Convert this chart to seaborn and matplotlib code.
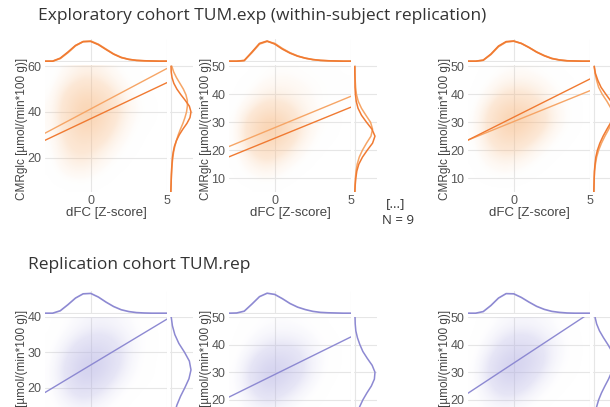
import numpy as np
import matplotlib.pyplot as plt
from matplotlib.colors import LinearSegmentedColormap
import seaborn as sns

# ---- values ----
fit_x = [-3, 5]

# grids for the marginal density curves
x_marg = [-3.0, -2.5, -2.0, -1.5, -1.0, -0.5, 0.0, 0.5, 1.0, 1.5, 2.0, 2.5, 3.0, 3.5, 4.0, 4.5, 5.0]
y_marg_60 = [5, 7.5, 10, 12.5, 15, 17.5, 20, 22.5, 25, 27.5, 30, 32.5, 35, 37.5, 40, 42.5, 45, 47.5, 50, 52.5, 55, 57.5, 60]
y_marg_50 = [5, 7.5, 10, 12.5, 15, 17.5, 20, 22.5, 25, 27.5, 30, 32.5, 35, 37.5, 40, 42.5, 45, 47.5, 50]
y_marg_40 = [5, 7.5, 10, 12.5, 15, 17.5, 20, 22.5, 25, 27.5, 30, 32.5, 35, 37.5, 40]

# exploratory cohort (two sessions: light / dark)
exp_ylim = [(5, 60.5), (5, 50.5), (5, 50.5)]
exp_yticks = [[20, 40, 60], [10, 20, 30, 40, 50], [10, 20, 30, 40, 50]]
exp_fit_light = [[30.7, 59.0], [21.3, 39.3], [23.6, 41.3]]
exp_fit_dark = [[27.6, 52.8], [17.6, 35.4], [23.6, 45.5]]

exp_top_light = [
    [0, 0, .13, .42, .76, .97, 1.0, .84, .60, .36, .19, .09, .04, .02, .01, 0, 0],
    [0, 0, .04, .42, .85, .98, .88, .63, .42, .26, .15, .08, .04, .02, .01, 0, 0],
    [0, 0, .05, .33, .72, .95, .99, .88, .68, .46, .28, .14, .06, .02, .01, 0, 0],
]
exp_top_dark = [
    [0, 0, .15, .45, .78, .97, .98, .82, .58, .35, .18, .09, .04, .02, .01, 0, 0],
    [0, 0, .03, .45, .88, 1.0, .85, .60, .40, .25, .15, .08, .04, .02, .01, 0, 0],
    [0, 0, .05, .35, .75, .97, 1.0, .88, .68, .45, .27, .13, .06, .02, .01, 0, 0],
]
exp_right_y = [y_marg_60, y_marg_50, y_marg_50]
exp_right_light = [
    [0, .01, .02, .03, .05, .07, .10, .14, .20, .28, .37, .48, .60, .70, .78, .82, .82, .75, .62, .45, .28, .14, .05],
    [0, .01, .03, .06, .12, .22, .38, .58, .80, .88, .78, .55, .33, .17, .08, .04, .02, .01, 0],
    [0, .01, .02, .04, .08, .14, .24, .38, .55, .74, .90, .95, .85, .65, .42, .24, .14, .06, .02],
]
exp_right_dark = [
    [0, .01, .02, .03, .04, .06, .08, .12, .18, .28, .42, .60, .80, .95, 1.0, .92, .72, .50, .30, .15, .06, .02, .01],
    [0, .02, .05, .10, .20, .38, .62, .88, 1.0, .85, .58, .33, .16, .07, .03, .01, .01, 0, 0],
    [0, .01, .02, .03, .06, .10, .18, .30, .46, .65, .85, .98, 1.0, .85, .60, .36, .20, .08, .02],
]
# point-cloud density, rows top->bottom, columns x = -2.5 .. 4.5
exp_cloud = [
    [[0, .08, .18, .15, .05, .01, 0, 0],
     [.01, .20, .40, .35, .14, .03, 0, 0],
     [.03, .40, .75, .65, .28, .07, .01, 0],
     [.05, .50, .95, .85, .38, .09, .02, 0],
     [.05, .48, .90, .75, .30, .06, .01, 0],
     [.03, .38, .65, .50, .18, .03, 0, 0],
     [.02, .28, .42, .26, .08, .01, 0, 0],
     [.01, .18, .25, .12, .03, 0, 0, 0],
     [0, .08, .10, .04, 0, 0, 0, 0],
     [0, 0, .01, 0, 0, 0, 0, 0]],
    [[0, 0, .03, .04, .03, .02, .01, 0],
     [0, .02, .08, .10, .07, .04, .02, .01],
     [0, .06, .20, .20, .12, .05, .02, .01],
     [.01, .20, .50, .45, .20, .06, .02, 0],
     [.02, .45, .95, .80, .30, .08, .02, 0],
     [.02, .50, 1.0, .75, .25, .05, .01, 0],
     [.01, .35, .65, .40, .12, .02, 0, 0],
     [0, .15, .30, .15, .04, 0, 0, 0],
     [0, .05, .10, .04, 0, 0, 0, 0],
     [0, 0, .01, 0, 0, 0, 0, 0]],
    [[0, .01, .04, .05, .03, .01, 0, 0],
     [0, .04, .15, .18, .12, .04, .01, 0],
     [0, .12, .38, .40, .25, .08, .02, 0],
     [.01, .30, .75, .80, .50, .14, .03, 0],
     [.02, .40, .95, .95, .55, .15, .03, 0],
     [.02, .35, .75, .65, .30, .07, .01, 0],
     [.01, .22, .40, .30, .10, .02, 0, 0],
     [0, .10, .16, .10, .03, 0, 0, 0],
     [0, .03, .05, .02, 0, 0, 0, 0],
     [0, 0, 0, 0, 0, 0, 0, 0]],
]

# replication cohort (one session)
rep_ylim = [(4, 40), (4, 50), (4, 50)]
rep_yticks = [[20, 30, 40], [20, 30, 40, 50], [20, 30, 40, 50]]
rep_fit = [[18.6, 39.4], [21.0, 42.8], [22.4, 51.5]]
rep_top = [
    [0, 0, .12, .42, .75, .96, .98, .80, .55, .33, .17, .08, .03, .01, 0, 0, 0],
    [0, .01, .10, .45, .82, .99, .93, .72, .48, .30, .18, .09, .04, .02, .01, 0, 0],
    [0, 0, .08, .38, .75, .97, .96, .78, .55, .34, .19, .09, .04, .01, 0, 0, 0],
]
rep_right_y = [y_marg_40, y_marg_50, y_marg_50]
rep_right = [
    [.02, .05, .10, .18, .30, .48, .70, .90, 1.0, .92, .68, .40, .20, .08, .02],
    [.01, .02, .04, .08, .14, .24, .40, .60, .82, .97, 1.0, .86, .62, .40, .25, .13, .05, .02, .01],
    [.01, .02, .03, .05, .08, .14, .24, .38, .55, .73, .88, .98, 1.0, .90, .70, .48, .28, .14, .06],
]
rep_cloud = [
    [[0, .03, .10, .15, .12, .05, .01, 0],
     [0, .08, .25, .35, .25, .10, .02, 0],
     [.01, .20, .55, .65, .40, .12, .02, 0],
     [.02, .35, .85, .85, .45, .10, .01, 0],
     [.03, .40, .90, .75, .30, .06, .01, 0],
     [.02, .30, .60, .40, .12, .02, 0, 0],
     [.01, .15, .28, .15, .04, 0, 0, 0],
     [0, .05, .08, .04, 0, 0, 0, 0],
     [0, .01, .02, 0, 0, 0, 0, 0],
     [0, 0, 0, 0, 0, 0, 0, 0]],
    [[0, .01, .04, .05, .04, .02, 0, 0],
     [0, .04, .12, .15, .12, .05, .01, 0],
     [0, .10, .30, .38, .28, .10, .02, 0],
     [.01, .25, .65, .70, .42, .12, .02, 0],
     [.02, .35, .90, .80, .40, .10, .01, 0],
     [.02, .30, .70, .50, .20, .04, 0, 0],
     [.01, .15, .32, .20, .06, .01, 0, 0],
     [0, .05, .10, .05, .01, 0, 0, 0],
     [0, .01, .02, 0, 0, 0, 0, 0],
     [0, 0, 0, 0, 0, 0, 0, 0]],
    [[0, .02, .08, .12, .10, .05, .01, 0],
     [0, .06, .25, .35, .25, .10, .02, 0],
     [0, .15, .50, .65, .45, .15, .03, 0],
     [.01, .30, .80, .85, .50, .12, .02, 0],
     [.02, .35, .85, .70, .30, .06, .01, 0],
     [.01, .25, .55, .40, .12, .02, 0, 0],
     [.01, .12, .22, .12, .03, 0, 0, 0],
     [0, .04, .06, .02, 0, 0, 0, 0],
     [0, 0, .01, 0, 0, 0, 0, 0],
     [0, 0, 0, 0, 0, 0, 0, 0]],
]

# ---- styling ----
W, H = 610, 407
orange_dark = '#f07a32'
orange_light = '#f6a566'
purple = '#8d89d2'
grid_color = '#e6e6e6'


def cloud_cmap(name, rgb):
    # transparent -> tinted, sparse rim kept faint
    return LinearSegmentedColormap.from_list(name, [
        (0.0, (1, 1, 1, 0)),
        (0.06, rgb + (0.06,)),
        (0.3, rgb + (0.32,)),
        (1.0, rgb + (0.62,)),
    ])


orange_cmap = cloud_cmap('oc', (0.97, 0.72, 0.50))
purple_cmap = cloud_cmap('pc', (0.70, 0.69, 0.89))
label_font = 'Liberation Sans'
title_font = 'Open Sans'

sns.set_style('white')
fig = plt.figure(figsize=(W / 100, H / 100), dpi=100)
fig.patch.set_facecolor('white')

panel_left = [45, 229, 468]


def clean(ax):
    for s in ax.spines.values():
        s.set_visible(False)
    ax.grid(True, color=grid_color, lw=0.8)
    ax.set_axisbelow(True)


def draw_panel(left, top, cloud, cmap, ylim, yticks, fits, fit_colors,
               top_curves, right_y, right_curves, curve_colors, show_x=True):
    # main scatter axes
    bottom = 1 - (top + 127) / H
    ax = fig.add_axes([left / W, bottom, 122 / W, 127 / H])
    clean(ax)
    ax.imshow(np.array(cloud), extent=(-3, 5, ylim[0], ylim[1]), aspect='auto',
              interpolation='bicubic', cmap=cmap, vmin=0, vmax=1, zorder=1)
    for fit, c in zip(fits, fit_colors):
        sns.lineplot(x=fit_x, y=fit, color=c, lw=1.0, ax=ax, zorder=3)
    ax.set_xlim(-3, 5)
    ax.set_ylim(*ylim)
    ax.set_xticks([0, 5])
    ax.set_yticks(yticks)
    ax.tick_params(length=0, pad=2.5, labelsize=9, labelcolor='#555555')
    for t in ax.get_xticklabels() + ax.get_yticklabels():
        t.set_fontfamily(label_font)
    ax.set_ylabel('CMRglc [µmol/(min*100 g)]', fontsize=8.5, color='#444444', family=label_font)
    ax.yaxis.set_label_coords(-0.14, 0.5)
    if show_x:
        ax.set_xlabel('dFC [Z-score]', fontsize=9.5, color='#444444', family=label_font)
        ax.xaxis.set_label_coords(0.5, -0.12)
    else:
        ax.set_xlabel('')
        ax.tick_params(labelbottom=False)

    # top marginal (x density)
    axt = fig.add_axes([left / W, 1 - (top - 3) / H, 122 / W, 23 / H])
    clean(axt)
    for curve, c in zip(top_curves, curve_colors):
        sns.lineplot(x=x_marg, y=curve, color=c, lw=1.2, ax=axt)
    axt.set_xlim(-3, 5)
    axt.set_ylim(-0.04, 1.1)
    axt.set_xticks([0, 5])
    axt.set_yticks([0])
    axt.tick_params(length=0, labelbottom=False, labelleft=False)
    axt.set_xlabel('')
    axt.set_ylabel('')

    # right marginal (y density)
    axr = fig.add_axes([(left + 125) / W, bottom, 23 / W, 127 / H])
    clean(axr)
    for curve, c in zip(right_curves, curve_colors):
        sns.lineplot(x=curve, y=right_y, orient='y', sort=False, estimator=None,
                     color=c, lw=1.1, ax=axr)
    axr.set_ylim(*ylim)
    axr.set_xlim(-0.04, 1.1)
    axr.set_yticks(yticks)
    axr.set_xticks([0])
    axr.tick_params(length=0, labelbottom=False, labelleft=False)
    axr.set_xlabel('')
    axr.set_ylabel('')


# exploratory cohort row
for i in range(3):
    draw_panel(panel_left[i], 65, exp_cloud[i], orange_cmap, exp_ylim[i], exp_yticks[i],
               [exp_fit_light[i], exp_fit_dark[i]], [orange_light, orange_dark],
               [exp_top_light[i], exp_top_dark[i]], exp_right_y[i],
               [exp_right_light[i], exp_right_dark[i]], [orange_light, orange_dark])

# replication cohort row (its lower part lies outside the crop)
for i in range(3):
    draw_panel(panel_left[i], 317, rep_cloud[i], purple_cmap, rep_ylim[i], rep_yticks[i],
               [rep_fit[i]], [purple], [rep_top[i]], rep_right_y[i],
               [rep_right[i]], [purple], show_x=False)

# titles and notes
fig.text(38 / W, 1 - 16 / H, 'Exploratory cohort TUM.exp (within-subject replication)',
         fontsize=12.5, family=title_font, color='#333333', va='center', ha='left')
fig.text(28 / W, 1 - 265 / H, 'Replication cohort TUM.rep',
         fontsize=12.5, family=title_font, color='#333333', va='center', ha='left')
fig.text(396 / W, 1 - 204 / H, '[...]', fontsize=9.5, family=title_font,
         color='#333333', va='center', ha='center')
fig.text(398 / W, 1 - 221 / H, 'N = 9', fontsize=9.5, family=title_font,
         color='#333333', va='center', ha='center')

fig.savefig('out.png', dpi=100)
